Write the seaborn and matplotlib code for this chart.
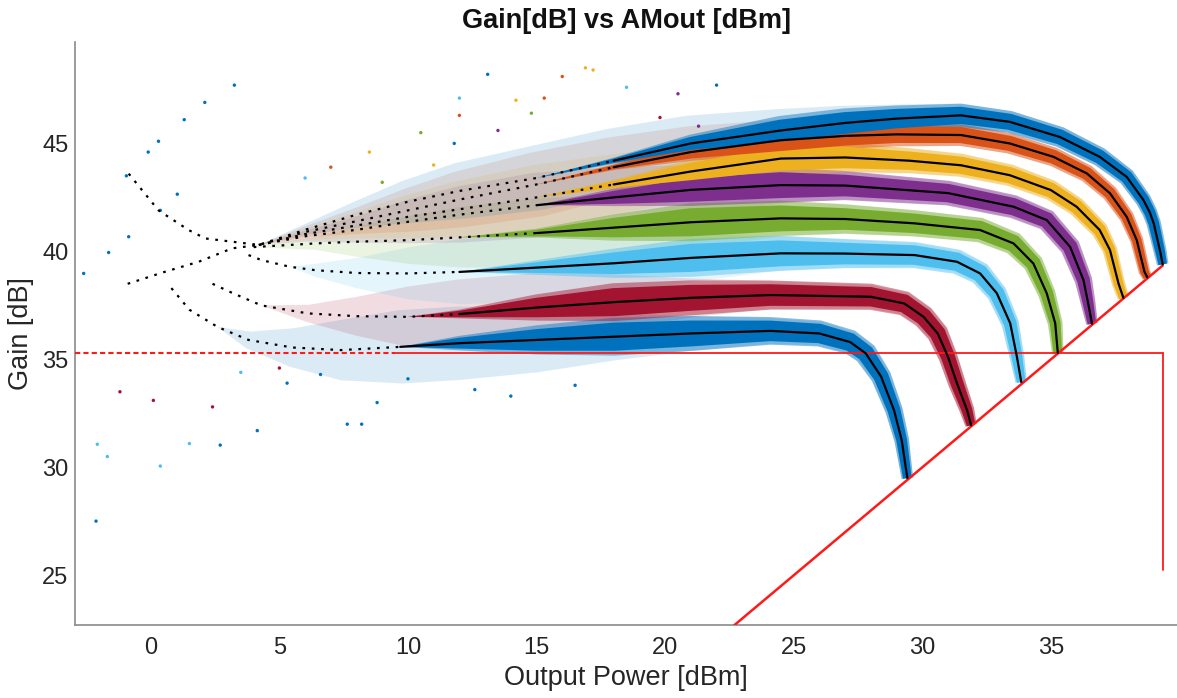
import numpy as np
import matplotlib
matplotlib.use("Agg")
import matplotlib.pyplot as plt
import seaborn as sns

# ---------------- data ----------------
# fitted gain curves (black) for 8 drive conditions: output power [dBm] -> gain [dB]
x1 = [0.8, 1.5, 2.6, 3.8, 5.5, 7.4, 9.7, 12, 15, 18, 21, 24.1, 26.0, 27.2, 27.8, 28.4, 28.9, 29.2, 29.42]
y1 = [38.3, 37.3, 36.5, 35.9, 35.55, 35.43, 35.58, 35.75, 35.9, 36.05, 36.2, 36.32, 36.2, 35.8, 35.28, 34.2, 32.65, 31.26, 29.5]
x2 = [2.4, 3.2, 4.3, 6.1, 8, 10, 12, 15, 18, 21, 24.1, 28, 29.3, 30.05, 30.6, 31.0, 31.35, 31.74, 31.9]
y2 = [38.5, 38.06, 37.5, 37.13, 37.0, 36.97, 37.1, 37.4, 37.65, 37.85, 37.98, 37.9, 37.59, 36.97, 36.2, 35.12, 33.89, 32.65, 31.95]
x3 = [3.8, 4.3, 5.4, 6.4, 8, 10, 12, 15, 18, 21, 24.5, 27, 29.7, 31.35, 32.25, 32.9, 33.42, 33.68, 33.85]
y3 = [39.83, 39.6, 39.29, 39.13, 39.0, 38.98, 39.05, 39.25, 39.45, 39.7, 39.91, 39.9, 39.83, 39.52, 38.98, 38.06, 36.67, 35.12, 33.95]
x4 = [4.0, 6.4, 8, 10, 12, 15, 18, 21, 24.5, 27, 29.7, 32.25, 33.55, 34.32, 34.84, 35.17, 35.27]
y4 = [40.2, 40.37, 40.45, 40.52, 40.65, 40.85, 41.1, 41.35, 41.53, 41.5, 41.3, 40.99, 40.37, 39.44, 38.06, 36.67, 35.3]
x5 = [4.2, 6, 8, 10, 12, 15, 18, 21, 24.5, 27, 31, 33.55, 34.84, 35.75, 36.27, 36.45, 36.6]
y5 = [40.3, 40.7, 41.0, 41.37, 41.7, 42.14, 42.5, 42.85, 43.07, 43.05, 42.7, 42.07, 41.45, 40.21, 38.67, 37.6, 36.65]
x6 = [4.2, 6, 8, 10, 12, 15, 18, 21, 24.5, 27, 29.5, 31.5, 33.4, 35.0, 36.0, 36.9, 37.3, 37.63, 37.82]
y6 = [40.3, 40.8, 41.2, 41.6, 41.95, 42.5, 43.1, 43.7, 44.3, 44.35, 44.2, 43.99, 43.53, 42.84, 42.07, 40.99, 40.06, 38.52, 37.85]
x7 = [-0.9, 0.56, 1.86, 3.16, 4.2, 6, 8, 10, 12, 15, 18, 21, 24.5, 27, 29, 31.5, 33.4, 35.1, 36.4, 37.3, 37.95, 38.34, 38.64, 38.75]
y7 = [38.5, 39.06, 39.52, 40.14, 40.3, 40.9, 41.4, 41.9, 42.4, 43.1, 43.9, 44.6, 45.15, 45.35, 45.42, 45.39, 45.0, 44.38, 43.61, 42.69, 41.6, 40.52, 39.06, 38.8]
x8 = [-0.86, 0.3, 1.47, 2.12, 4.2, 6, 8, 10, 12, 15, 18, 21, 24.5, 27, 29, 31.5, 33.4, 35.35, 36.9, 37.95, 38.6, 38.85, 39.0, 39.25, 39.35]
y8 = [43.6, 41.9, 40.99, 40.6, 40.3, 41.0, 41.7, 42.3, 42.8, 43.4, 44.2, 45.0, 45.6, 45.95, 46.15, 46.3, 46.0, 45.3, 44.38, 43.45, 42.38, 41.8, 41.3, 40.0, 39.4]

# spread of the measured points around each fit (total thickness, dB): dense core and sparse halo
core1 = [0, 0, 0, 0, 0, 0, 0, 0.5, 1.0, 1.3, 1.2, 0.95, 0.9, 0.85, 0.8, 0.7, 0.6, 0.5, 0.4]
halo1 = [0, 0, 0, 0.8, 1.8, 2.8, 3.4, 3.4, 3.0, 2.2, 1.6, 1.2, 1.1, 1.05, 1.0, 0.9, 0.8, 0.7, 0.5]
core2 = [0, 0, 0, 0, 0, 0, 0.3, 0.9, 1.3, 1.2, 1.0, 0.9, 0.85, 0.8, 0.75, 0.65, 0.6, 0.5, 0.4]
halo2 = [0, 0, 0, 0.8, 1.8, 2.8, 3.2, 3.2, 2.6, 1.8, 1.3, 1.1, 1.05, 1.0, 0.95, 0.85, 0.8, 0.7, 0.5]
core3 = [0, 0, 0, 0, 0, 0, 0, 0.5, 1.0, 1.3, 1.2, 1.0, 0.9, 0.85, 0.8, 0.7, 0.6, 0.5, 0.4]
halo3 = [0, 0, 0, 0.6, 1.4, 2.4, 3.0, 3.2, 2.8, 2.2, 1.6, 1.3, 1.1, 1.0, 0.95, 0.85, 0.8, 0.7, 0.5]
core4 = [0, 0, 0, 0, 0, 0.3, 0.9, 1.3, 1.2, 1.0, 0.9, 0.85, 0.8, 0.7, 0.6, 0.5, 0.4]
halo4 = [0, 0.6, 1.4, 2.2, 2.8, 3.2, 3.0, 2.4, 1.7, 1.4, 1.2, 1.1, 1.0, 0.9, 0.8, 0.7, 0.5]
core5 = [0, 0, 0, 0, 0, 0, 0.6, 1.1, 1.2, 1.0, 0.85, 0.8, 0.75, 0.7, 0.6, 0.5, 0.4]
halo5 = [0, 0.5, 1.2, 2.0, 2.6, 3.0, 2.8, 2.3, 1.7, 1.3, 1.1, 1.0, 0.95, 0.9, 0.8, 0.7, 0.5]
core6 = [0, 0, 0, 0, 0, 0, 0.3, 0.8, 1.1, 1.0, 0.85, 0.8, 0.75, 0.7, 0.65, 0.6, 0.5, 0.45, 0.4]
halo6 = [0, 0.5, 1.2, 2.0, 2.6, 3.0, 2.8, 2.4, 1.9, 1.5, 1.2, 1.0, 0.95, 0.9, 0.85, 0.8, 0.7, 0.6, 0.5]
core7 = [0, 0, 0, 0, 0, 0, 0, 0, 0, 0, 0.2, 0.6, 1.0, 0.9, 0.8, 0.75, 0.7, 0.65, 0.6, 0.55, 0.5, 0.45, 0.4, 0.35]
halo7 = [0, 0, 0, 0, 0, 0.5, 1.2, 2.0, 2.6, 3.0, 2.8, 2.4, 1.9, 1.5, 1.2, 1.0, 0.95, 0.9, 0.85, 0.8, 0.7, 0.6, 0.5, 0.4]
core8 = [0, 0, 0, 0, 0, 0, 0, 0, 0, 0, 0.2, 0.6, 1.0, 1.0, 0.9, 0.8, 0.75, 0.7, 0.65, 0.6, 0.55, 0.52, 0.5, 0.45, 0.4]
halo8 = [0, 0, 0, 0, 0, 0.5, 1.2, 2.0, 2.6, 3.0, 3.0, 2.6, 2.0, 1.6, 1.3, 1.1, 1.0, 0.95, 0.9, 0.8, 0.7, 0.65, 0.6, 0.5, 0.4]

# output power where the black fit becomes a continuous line
solid_from = [9.7, 12, 12, 15, 15, 18, 18, 18]

# sparse outlier points (output power, gain, series index 1..8)
out_x = [-2.61, -1.64, -0.86, 0.37, 1.03, -0.95, -0.1, 0.3, 1.3, 2.1, 3.25,
         -2.13, 0.37, -2.08, -1.69, 2.7, 1.5, 4.14, 7.64, 8.2, 2.4, -1.2, 0.1, 5.3, 6.6,
         11.0, 13.5, 16.0, 9.0, 14.2, 18.5, 20.5, 12.0, 17.2, 22.0,
         13.1, 16.9, 15.3, 12.0, 19.8, 21.3, 10.5, 8.5, 7.0, 6.0, 11.8, 14.8,
         10.0, 12.6, 14.0, 16.5, 5.0, 3.5, 8.8]
out_y = [38.98, 39.95, 40.68, 41.9, 42.65, 43.5, 44.6, 45.1, 46.1, 46.9, 47.7,
         27.51, 30.06, 31.07, 30.5, 31.03, 31.1, 31.7, 32.0, 32.0, 32.8, 33.5, 33.1, 33.9, 34.3,
         44.0, 45.6, 48.1, 43.2, 47.0, 47.6, 47.3, 46.3, 48.4, 47.7,
         48.2, 48.5, 47.1, 47.1, 46.2, 45.8, 45.5, 44.6, 43.9, 43.4, 45.0, 46.4,
         34.1, 33.6, 33.3, 33.8, 34.6, 34.4, 33.0]
out_s = [8, 8, 8, 8, 8, 8, 8, 8, 8, 8, 8,
         1, 3, 3, 3, 1, 3, 1, 1, 1, 2, 2, 2, 1, 1,
         6, 5, 7, 4, 6, 3, 5, 7, 6, 1,
         1, 6, 7, 3, 2, 5, 4, 6, 7, 3, 1, 4,
         1, 1, 1, 1, 2, 3, 1]

curve_x = [x1, x2, x3, x4, x5, x6, x7, x8]
curve_y = [y1, y2, y3, y4, y5, y6, y7, y8]
cores = [core1, core2, core3, core4, core5, core6, core7, core8]
halos = [halo1, halo2, halo3, halo4, halo5, halo6, halo7, halo8]

# limit lines
hline_y = 35.28
vline_x = 39.35
vline_bottom = 25.25
diag_start = 22.7

xticks = [0, 5, 10, 15, 20, 25, 30, 35]
yticks = [25, 30, 35, 40, 45]

series_colors = ["#0072BD", "#A2142F", "#4DBEEE", "#77AC30", "#7E2F8E", "#EDB120", "#D95319", "#0072BD"]

# ---------------- plotting ----------------
sns.set_theme(style="white")
plt.rcParams["font.family"] = ["Liberation Sans", "DejaVu Sans"]

fig = plt.figure(figsize=(11.77, 6.98), dpi=100)
ax = fig.add_axes([0.0641, 0.1046, 0.936, 0.835])
ax.set_xlim(-2.93, 39.91)
ax.set_ylim(22.7, 49.69)


def band(xs, ys, th, color, alpha, z, scale=1.0):
    """Fill a band of given total thickness (dB) centred on a polyline."""
    P = ax.transData.transform(np.column_stack([xs, ys]))
    p0 = ax.transData.transform((0, 0))
    p1 = ax.transData.transform((0, 1))
    px_per_db = p1[1] - p0[1]
    n = len(xs)
    T = np.array([P[min(i + 1, n - 1)] - P[max(i - 1, 0)] for i in range(n)], dtype=float)
    T /= np.linalg.norm(T, axis=1)[:, None]
    N = np.column_stack([-T[:, 1], T[:, 0]])
    w = np.array(th, dtype=float) * scale * px_per_db / 2.0
    keep = [i for i in range(n) if w[i] > 0 or (i > 0 and w[i - 1] > 0) or (i < n - 1 and w[i + 1] > 0)]
    if not keep:
        return
    U = P[keep] + N[keep] * w[keep][:, None]
    L = P[keep] - N[keep] * w[keep][:, None]
    poly = np.vstack([U, L[::-1]])
    d = ax.transData.inverted().transform(poly)
    ax.fill(d[:, 0], d[:, 1], color=color, alpha=alpha, lw=0, zorder=z)


# sparse halos (translucent so neighbouring clouds mix)
for i in range(8):
    band(curve_x[i], curve_y[i], halos[i], series_colors[i], 0.14, 1)
# fuzzy edge of the dense clouds
for i in range(8):
    band(curve_x[i], curve_y[i], cores[i], series_colors[i], 0.45, 2, scale=1.35)
# dense cores
for i in range(8):
    band(curve_x[i], curve_y[i], cores[i], series_colors[i], 1.0, 2.5)

# outliers
sns.scatterplot(x=out_x, y=out_y, hue=[str(s) for s in out_s],
                palette={str(k + 1): series_colors[k] for k in range(8)},
                s=6, linewidth=0, legend=False, ax=ax, zorder=3)

# limit lines (red)
red = "#FF1A1A"
ax.plot([-2.93, 9.5], [hline_y, hline_y], color=red, lw=1.5, ls=(0, (2.5, 1.5)), zorder=3)
ax.plot([9.5, vline_x], [hline_y, hline_y], color=red, lw=1.3, zorder=3)
ax.plot([vline_x, vline_x], [hline_y, vline_bottom], color=red, lw=1.3, zorder=3)
ax.plot([diag_start, vline_x], [diag_start, vline_x], color=red, lw=1.8, zorder=3)

# black fit curves
for i in range(8):
    xs, ys = np.array(curve_x[i]), np.array(curve_y[i])
    m_sp = xs <= solid_from[i]
    m_so = xs >= solid_from[i]
    sns.lineplot(x=xs[m_sp], y=ys[m_sp], color="black", lw=1.6, ls=(0, (1.2, 3.0)),
                 sort=False, estimator=None, ax=ax, zorder=4)
    sns.lineplot(x=xs[m_so], y=ys[m_so], color="black", lw=1.6, sort=False,
                 estimator=None, ax=ax, zorder=4)

ax.set_xlim(-2.93, 39.91)
ax.set_ylim(22.7, 49.69)
ax.set_xticks(xticks)
ax.set_yticks(yticks)
ax.set_xticklabels([str(t) for t in xticks])
ax.set_yticklabels([str(t) for t in yticks])

for s in ["top", "right"]:
    ax.spines[s].set_visible(False)
for s in ["left", "bottom"]:
    ax.spines[s].set_color("#8a8a8a")
    ax.spines[s].set_linewidth(1.2)
ax.tick_params(axis="both", direction="in", length=7.5, width=1.0, color="#8a8a8a",
               labelsize=17, labelcolor="#262626")
ax.tick_params(axis="x", pad=9)
ax.tick_params(axis="y", pad=5)

ax.set_xlabel("Output Power [dBm]", fontsize=19.5, color="#262626", labelpad=4)
ax.set_ylabel("Gain [dB]", fontsize=19.5, color="#262626", labelpad=6)
ax.set_title("Gain[dB] vs AMout [dBm]", fontsize=19.5, fontweight="bold", color="#111111", pad=10)

fig.savefig("out.png", dpi=100)
